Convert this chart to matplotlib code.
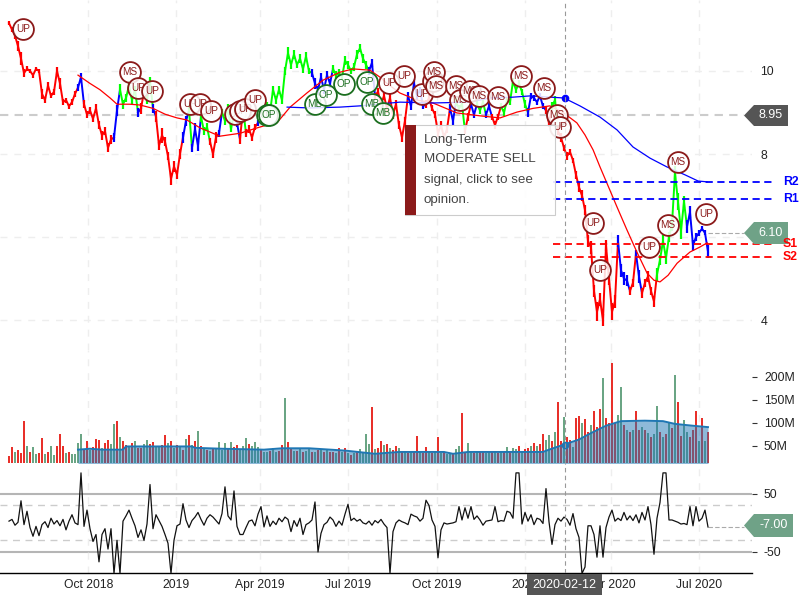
import matplotlib
matplotlib.use('Agg')
import matplotlib.pyplot as plt
from matplotlib.patches import Polygon, Rectangle
from matplotlib.transforms import blended_transform_factory

plt.rcParams['font.family'] = ['Liberation Sans', 'DejaVu Sans']
plt.rcParams['axes.unicode_minus'] = False

# x axis is the sample number, one sample per 3 pixels of the chart
tick_pos = [26.4, 55.8, 83.6, 112.9, 142.6, 172, 200.7, 230.1]
tick_names = ['Oct 2018', '2019', 'Apr 2019', 'Jul 2019', 'Oct 2019', '2020', 'Apr 2020', 'Jul 2020']

price = [
    11.15, 11.0, 10.85, 10.6, 10.3, 9.95, 10.05, 10.0, 9.9, 10.05,
    10.0, 9.45, 9.3, 9.65, 9.4, 9.5, 10.0, 9.7, 9.25, 9.3,
    9.15, 9.25, 9.45, 9.6, 9.85, 9.2, 8.95, 9.05, 8.85, 9.1,
    8.7, 8.45, 8.55, 8.15, 8.35, 8.4, 9.05, 9.55, 9.2,
    9.35, 9.65, 9.3, 9.55, 9.0, 9.1, 9.5, 9.3, 9.75, 9.1,
    8.9, 8.2, 8.45, 8.3, 7.95, 7.4, 7.7, 7.5, 8.0, 8.4,
    8.8, 9.05, 8.15, 8.6, 8.2, 8.9, 8.55, 8.65, 8.3, 8.0,
    8.4, 8.5, 9.0, 8.8, 9.1, 8.6, 9.0, 8.75, 8.35, 9.1,
    8.5, 8.6, 8.4, 8.65, 8.75, 8.85, 9.1, 9.15, 9.0, 9.55,
    9.3, 9.55, 9.3, 10.0, 10.43, 10.15, 10.4, 10.15, 10.3, 10.05,
    10.35, 10.0, 9.95, 9.7, 9.55, 9.85, 9.55, 9.9, 9.7, 10.05,
    9.9, 9.95, 9.85, 10.25, 10.15, 10.0, 10.1, 10.4, 10.55, 10.3,
    10.15, 10.0, 10.2, 9.4, 9.5, 9.2, 9.4, 9.1, 9.35, 8.95,
    9.2, 8.7, 8.4, 8.8, 9.4, 9.15, 9.7, 9.4, 9.55, 9.15,
    9.2, 9.35, 9.1, 8.95, 8.5, 8.7, 8.4, 8.6, 9.1, 8.8,
    9.25, 9.1, 9.2, 8.55, 8.9, 9.2, 8.95, 9.2, 9.05, 9.25,
    8.95, 9.15, 8.9, 8.7, 8.9, 9.15, 9.0, 9.3, 9.25, 9.75,
    9.55, 9.7, 9.5, 9.2, 9.0, 9.4, 9.35, 9.25, 9.4, 9.15,
    9.05, 8.75, 9.15, 9.3, 8.55, 8.4, 8.15, 7.95, 8.05, 7.85,
    7.5, 7.2, 7.0, 6.65, 5.9, 5.75, 4.7, 4.2, 4.5, 4.0,
    5.8, 5.0, 4.2, 4.45, 5.9, 5.2, 5.0, 4.95, 4.7, 4.9,
    5.6, 5.05, 4.65, 4.9, 5.05, 4.7, 4.45, 5.1, 5.45, 5.9,
    5.5, 6.0, 6.3, 7.55, 6.85, 6.15, 6.85, 6.25, 6.6, 5.8,
    6.0, 6.1, 6.2, 6.1, 5.65,
]
# high-low range seen at each sample
day_range = [
    0.1, 0.12, 0.15, 0.25, 0.3, 0.2, 0.12, 0.1, 0.12, 0.1,
    0.12, 0.25, 0.15, 0.18, 0.12, 0.15, 0.2, 0.25, 0.15, 0.12,
    0.12, 0.15, 0.15, 0.15, 0.2, 0.2, 0.15, 0.15, 0.15, 0.2,
    0.2, 0.2, 0.18, 0.22, 0.2, 0.2, 0.25, 0.25, 0.22, 0.2,
    0.2, 0.2, 0.2, 0.2, 0.25, 0.2, 0.2, 0.2, 0.2, 0.25,
    0.2, 0.35, 0.2, 0.2, 0.3, 0.25, 0.2, 0.25, 0.25, 0.25,
    0.25, 0.2, 0.3, 0.25, 0.25, 0.2, 0.2, 0.15, 0.2, 0.25,
    0.18, 0.15, 0.2, 0.2, 0.15, 0.2, 0.2, 0.2, 0.2, 0.2,
    0.2, 0.15, 0.15, 0.15, 0.15, 0.15, 0.2, 0.2, 0.2, 0.2,
    0.2, 0.2, 0.2, 0.3, 0.2, 0.2, 0.15, 0.2, 0.2, 0.2,
    0.15, 0.2, 0.25, 0.2, 0.2, 0.2, 0.2, 0.2, 0.2, 0.2,
    0.2, 0.15, 0.2, 0.2, 0.15, 0.2, 0.2, 0.2, 0.2, 0.2,
    0.2, 0.2, 0.15, 0.2, 0.2, 0.2, 0.2, 0.2, 0.2, 0.2,
    0.2, 0.2, 0.2, 0.2, 0.2, 0.2, 0.2, 0.15, 0.15, 0.2,
    0.15, 0.15, 0.15, 0.2, 0.2, 0.2, 0.2, 0.2, 0.2, 0.2,
    0.15, 0.15, 0.15, 0.2, 0.2, 0.15, 0.15, 0.15, 0.15, 0.15,
    0.15, 0.15, 0.2, 0.15, 0.15, 0.15, 0.15, 0.15, 0.15, 0.15,
    0.15, 0.15, 0.2, 0.2, 0.15, 0.15, 0.12, 0.12, 0.15, 0.15,
    0.2, 0.2, 0.2, 0.2, 0.2, 0.15, 0.2, 0.15, 0.12, 0.2,
    0.25, 0.25, 0.25, 0.3, 0.3, 0.3, 0.45, 0.3, 0.3, 0.25,
    0.3, 0.4, 0.3, 0.3, 0.3, 0.3, 0.25, 0.2, 0.2, 0.2,
    0.3, 0.25, 0.2, 0.25, 0.2, 0.25, 0.3, 0.25, 0.3, 0.3,
    0.25, 0.3, 0.3, 0.4, 0.4, 0.3, 0.3, 0.3, 0.25, 0.2,
    0.15, 0.12, 0.12, 0.3,
]
trend_runs = [
    ('r', 23), ('b', 2), ('r', 10), ('b', 2), ('g', 6), ('b', 1), ('r', 1), ('g', 3),
    ('b', 1), ('r', 9), ('b', 2), ('g', 1), ('b', 3), ('g', 3), ('r', 3), ('b', 1),
    ('g', 5), ('b', 1), ('r', 1), ('g', 1), ('r', 4), ('b', 1), ('g', 17), ('b', 7),
    ('g', 12), ('b', 2), ('r', 11), ('b', 6), ('r', 8), ('b', 2), ('g', 3), ('r', 2),
    ('b', 2), ('g', 3), ('b', 2), ('r', 3), ('g', 9), ('b', 6), ('r', 2), ('g', 2),
    ('r', 20), ('b', 4), ('r', 2), ('b', 2), ('r', 5), ('g', 10), ('b', 8),
]

ma_red_x = [23, 27, 30.3, 33.7, 36, 40.3, 43.7, 48, 52, 56, 59.3, 63.7, 67, 70.3, 77, 82.7, 87, 89.3,
            93.7, 99.3, 104.7, 110.3, 114.7, 120.3, 123.7, 126, 130.3, 136, 141.3, 149.3, 157, 163.7,
            169.3, 174.7, 180.3, 184.7, 189.3, 192, 194.7, 197, 199.3, 202.7, 206, 209.3, 212.7,
            215, 217, 219.7, 222.7, 227, 230.3, 232.7]
ma_red = [9.9, 9.7, 9.55, 9.35, 9.2, 9.2, 9.18, 9.1, 8.96, 8.87, 8.82, 8.63, 8.53, 8.43, 8.5, 8.63, 8.72, 8.75,
          9.13, 9.47, 9.78, 9.97, 10.05, 10.02, 9.85, 9.7, 9.47, 9.3, 9.23, 8.99, 8.92, 8.87,
          9.01, 9.1, 9.16, 9.0, 8.75, 8.46, 8.1, 7.69, 7.3, 6.72, 6.17, 5.64, 5.13,
          4.96, 4.92, 5.08, 5.37, 5.64, 5.76, 5.86]
ma_blue_x = [92.7, 100.3, 110.3, 117, 130.3, 141.3, 153.7, 160.3, 168, 173.7, 185, 190.3, 197, 202.7,
             208, 213.7, 219.3, 225.3, 229.7, 232.7]
ma_blue = [9.13, 9.11, 9.13, 9.16, 9.25, 9.23, 9.25, 9.35, 9.37, 9.4, 9.35, 9.16, 8.89, 8.58,
           8.17, 7.9, 7.69, 7.5, 7.35, 7.33]

signal_x = [4.7, 40.3, 43, 47.7, 60.3, 63.7, 67.3, 75.3, 77, 78.7, 82, 86, 86.7,
            102, 105.7, 111.7, 119.3, 121, 124.7, 126.7, 131.7, 137.7, 141.3, 141.7, 142.3,
            149, 150.3, 153.7, 156.7, 163, 170.7, 178.3, 182.7, 183.7, 194.7, 197,
            213.3, 219.7, 223, 232.3]
signal_price = [11.0, 9.97, 9.6, 9.53, 9.2, 9.2, 9.03, 8.97, 9.03, 9.08, 9.3, 8.93, 8.95,
                9.2, 9.42, 9.68, 9.73, 9.2, 9.0, 9.7, 9.87, 9.45, 9.75, 9.97, 9.65,
                9.65, 9.3, 9.53, 9.4, 9.37, 9.87, 9.6, 8.95, 8.65, 6.35, 5.2,
                5.75, 6.3, 7.8, 6.55]
signal_name = ['UP', 'MS', 'UP', 'UP', 'UP', 'UP', 'UP', 'UP', 'UP', 'UP', 'UP', 'OP', 'OP',
               'MB', 'OP', 'OP', 'OP', 'MB', 'MB', 'UP', 'UP', 'UP', 'UP', 'MS', 'MS',
               'MS', 'MS', 'MS', 'MS', 'MS', 'MS', 'MS', 'MS', 'UP', 'UP', 'UP',
               'UP', 'MS', 'MS', 'UP']

resist = [7.33, 6.92]
resist_names = ['R2', 'R1']
support = [5.83, 5.52]
support_names = ['S1', 'S2']
last_close = 6.10
ref_price = 8.95
cross_x = 185.2
cross_price = 9.35
cross_vol = 53

volume = [
    29, 47, 36, 42, 34, 104, 50, 36, 47, 33,
    34, 67, 32, 36, 49, 30, 50, 77, 51, 35,
    38, 32, 33, 56, 75, 44, 60, 42, 48, 65,
    63, 46, 56, 62, 55, 97, 104, 70, 60, 52,
    48, 57, 60, 46, 45, 54, 64, 54, 59, 48,
    50, 52, 74, 57, 60, 46, 52, 50, 42, 66,
    74, 52, 60, 82, 50, 44, 42, 40, 44, 46,
    58, 42, 57, 44, 58, 48, 52, 42, 50, 67,
    54, 50, 58, 47, 44, 36, 38, 40, 46, 38,
    40, 52, 155, 58, 44, 40, 40, 46, 38, 40,
    44, 36, 38, 42, 44, 36, 41, 36, 38, 34,
    46, 36, 45, 34, 31, 35, 38, 44, 34, 76,
    55, 135, 44, 46, 60, 52, 54, 45, 42, 50,
    45, 40, 38, 35, 36, 38, 71, 36, 35, 48,
    38, 35, 40, 70, 35, 37, 33, 35, 33, 44,
    50, 122, 36, 57, 40, 35, 38, 36, 39, 35,
    37, 36, 40, 35, 37, 38, 48, 40, 46, 43,
    50, 37, 44, 46, 50, 56, 50, 54, 76, 62,
    74, 60, 80, 146, 60, 112, 70, 62, 48, 110,
    115, 100, 108, 80, 95, 125, 92, 130, 197, 110,
    100, 230, 100, 118, 178, 96, 85, 80, 84, 125,
    85, 92, 84, 78, 70, 76, 136, 80, 70, 75,
    103, 90, 205, 146, 72, 106, 80, 70, 85, 125,
    60, 110, 60, 80,
]
vol_up = (
    'rrgrrrgrgg' 'rrgrggrrrg' 'rggggrrgrr' 'rgrrggrgrr'
    'grgrrggrrg' 'grrgrgrgrg' 'rgrgrgrgrg' 'gggrgrrggg'
    'rgggrggrgg' 'rrgrrgrgrg' 'grgrgrgrrg' 'rgrgrgrggg'
    'grgrrgrgrr' 'grgrgrrgrr' 'grgrgrggrg' 'grrggrgrrg'
    'grgrgrgrgg' 'rgrrgrgrrg' 'grgrrgrrgr' 'rgrrgrrrgr'
    'rrrggrgrgr' 'rgrgrggrgr' 'grgrrggrrr' 'grgr'
)
vol_avg_x = [23, 27, 31, 38, 39, 61, 62, 71, 85, 91, 100, 112, 122, 130, 145, 148, 153, 178, 180, 185, 190, 194, 199, 204, 212, 218, 222, 228, 233]
vol_avg = [42, 44, 42, 42, 49, 49, 46, 44, 42, 45, 45, 40, 33, 37, 37, 33, 37, 37, 42, 53, 64, 78, 94, 104, 105, 104, 98, 94, 91]

osc = [
    3, 6, -4, 1, 38, -3, 20, -8, -23, -6,
    -22, -3, 2, -8, 8, -2, 4, -5, 6, -12,
    3, 14, 0, -3, 86, -6, 22, -10, -32, -20,
    -67, -20, -10, -45, -10, -87, -30, -87, 3, 12,
    22, 8, -5, -25, -12, -30, -2, 66, -10, 14,
    4, -6, -20, -35, -87, -30, -5, -2, 33, 5,
    -8, 4, 10, 18, 6, -4, 8, 14, 10, 4,
    -2, 16, 62, 12, 5, 55, -6, -20, -20, -8,
    3, 5, -5, 15, 28, -7, 12, -6, 3, -3,
    8, 2, 10, 6, -15, 4, -6, 8, -20, -3,
    0, 5, 36, -50, -18, -3, 1, 10, 5, -6,
    3, -4, 15, 32, 4, 8, 3, 6, 0, -2,
    3, -4, 4, 0, 6, -2, -8, -87, -15, 0,
    5, 2, 0, -3, 15, 12, 10, 3, 8, 39,
    30, 5, -6, -60, -12, 0, -2, -1, 0, 2,
    28, 5, 26, 8, 28, 6, 12, 5, -4, 3,
    4, 5, 28, 2, 4, 3, 20, 18, 8, 86,
    86, -2, 18, 3, 14, -3, 8, 6, -1, 59,
    2, -37, -3, 8, 3, 10, 6, -4, 16, -10,
    -25, -87, -76, -5, -5, -20, -59, -5, -59, -8,
    10, 22, 3, 8, 4, 18, 5, 12, 4, 14,
    0, 18, 5, 28, -3, -54, 8, 35, 86, 86,
    5, 5, 3, 1, -2, -1, -3, 28, -5, 28,
    3, 8, 22, -7,
]
osc_last = -7

W, H = 800.0, 600.0
RED = '#ff0000'
BLUE = '#0000ff'
GREEN = '#00ff00'
TEXT = '#222222'


def rect(top, bottom):
    return [0, 1 - bottom / H, 752 / W, (bottom - top) / H]


def fx(x):
    return x / W


def fy(y):
    return 1 - y / H


fig = plt.figure(figsize=(8, 6), dpi=100, facecolor='white')
ax = fig.add_axes(rect(0, 350))
axv = fig.add_axes(rect(350, 463), sharex=ax)
axo = fig.add_axes(rect(463, 573), sharex=ax)

for a in (ax, axv, axo):
    for s in a.spines.values():
        s.set_visible(False)
    a.patch.set_alpha(0)
    a.yaxis.tick_right()
    a.set_xticks(tick_pos)
    a.grid(axis='x', color='#eeeeee', ls=(0, (5, 5)), lw=1, zorder=0)
    a.axvline(cross_x, color='#999999', lw=0.8, ls=(0, (4, 3)), zorder=6)
    a.tick_params(axis='x', length=0, labelbottom=False)
    a.tick_params(axis='y', labelsize=8.8, labelcolor=TEXT, color='#333333', length=3.6, width=0.8, pad=5)
ax.set_xlim(-3, 247.67)

# price panel
ax.set_ylim(3.28, 11.71)
ax.set_yticks([4, 6, 8, 10])
ax.tick_params(axis='y', length=0, pad=6)
ax.grid(axis='y', color='#eeeeee', ls=(0, (5, 5)), lw=1, zorder=0)
ax.hlines(ref_price, -3, 245, color='#cccccc', lw=1.5, ls=(0, (4, 3)), zorder=1, clip_on=False)
ax.hlines(last_close, 233, 245, color='#aaaaaa', lw=0.8, ls=(0, (4, 2)), zorder=1, clip_on=False)

colors = {'r': RED, 'b': BLUE, 'g': GREEN}
start = 0
for c, n in trend_runs:
    idx = list(range(start, start + n))
    # carry the line on to the first sample of the next run so the trace stays joined
    join = price[start:start + n + 1]
    ax.plot(range(start, start + len(join)), join, color=colors[c], lw=1.4, zorder=3)
    lows = [price[i] - day_range[i] / 2 for i in idx]
    highs = [price[i] + day_range[i] / 2 for i in idx]
    ax.vlines(idx, lows, highs, color=colors[c], lw=1.6, zorder=3)
    start += n

ax.plot(ma_red_x, ma_red, color=RED, lw=0.9, zorder=4)
ax.plot(ma_blue_x, ma_blue, color=BLUE, lw=0.9, zorder=4)
ax.plot([cross_x], [cross_price], 'o', color=BLUE, ms=4.5, zorder=5)

label_tf = blended_transform_factory(fig.transFigure, ax.transData)
for val, name in zip(resist, resist_names):
    ax.hlines(val, 181.3, 255.3, color=BLUE, lw=1.3, ls=(0, (4, 2.5)), zorder=4, clip_on=False)
    fig.text(fx(783), val, name, color=BLUE, fontsize=8.8, fontweight='bold', va='center',
             transform=label_tf, zorder=12)
for val, name in zip(support, support_names):
    ax.hlines(val, 181.3, 255.3, color=RED, lw=1.3, ls=(0, (4, 2.5)), zorder=4, clip_on=False)
    fig.text(fx(783), val, name, color=RED, fontsize=8.8, fontweight='bold', va='center',
             transform=label_tf, zorder=12)

for sx, sy, name in zip(signal_x, signal_price, signal_name):
    col = '#1b6e1f' if name in ('OP', 'MB') else '#8b1a1a'
    ax.plot([sx], [sy], 'o', ms=15, mfc=(1, 1, 1, 0.85), mec=col, mew=1.3, zorder=7)
    ax.text(sx, sy, name, color=col, fontsize=7.2, ha='center', va='center', zorder=7)

# volume panel
axv.set_ylim(13, 258.7)
axv.set_yticks([50, 100, 150, 200])
axv.set_yticklabels(['50M', '100M', '150M', '200M'])
vol_col = ['#e8302a' if c == 'r' else '#6aa584' for c in vol_up]
axv.bar(range(len(volume)), volume, width=0.6, color=vol_col, zorder=2)
axv.fill_between(vol_avg_x, 0, vol_avg, color='#1f77b4', alpha=0.5, lw=0, zorder=3)
axv.plot(vol_avg_x, vol_avg, color='#1f77b4', lw=1.4, zorder=4)
axv.plot([cross_x], [cross_vol], 'o', color='#1f77b4', ms=4.5, zorder=5)

# oscillator panel
axo.set_ylim(-86.2, 103)
axo.set_yticks([-50, 50])
axo.axhline(50, color='#b5b5b5', lw=1.5, zorder=1)
axo.axhline(-50, color='#b5b5b5', lw=1.5, zorder=1)
axo.axhline(30, color='#cccccc', lw=1, ls=(0, (5, 4)), zorder=1)
axo.axhline(-30, color='#cccccc', lw=1, ls=(0, (5, 4)), zorder=1)
axo.plot(range(len(osc)), osc, color='#111111', lw=0.9, zorder=3)
axo.hlines(osc_last, 233, 245, color='#aaaaaa', lw=0.8, ls=(0, (4, 2)), zorder=1, clip_on=False)
axo.spines['bottom'].set_visible(True)
axo.spines['bottom'].set_color('black')
axo.spines['bottom'].set_linewidth(1)
axo.set_xticklabels(tick_names)
axo.tick_params(axis='x', labelbottom=True, labelsize=8.7, labelcolor=TEXT, pad=4)


def tag(left, right, top, bottom, color, label):
    mid = (top + bottom) / 2
    pts = [(left, mid), (left + 10, top), (right, top), (right, bottom), (left + 10, bottom)]
    fig.add_artist(Polygon([(fx(x), fy(y)) for x, y in pts], closed=True, fc=color, ec='none',
                           transform=fig.transFigure, zorder=10))
    fig.text(fx((left + 10 + right) / 2), fy(mid), label, color='white', fontsize=9, ha='center',
             va='center', zorder=11)


tag(744, 788, 105, 126, '#555555', '%.2f' % ref_price)
tag(744, 788, 222, 244, '#6fa287', '%.2f' % last_close)
tag(744, 793, 514, 537, '#6fa287', '%.2f' % osc_last)

fig.add_artist(Rectangle((fx(527), fy(595)), 75 / W, 21 / H, fc='#555555', ec='none',
                         transform=fig.transFigure, zorder=10))
fig.text(fx(564.5), fy(584.5), '2020-02-12', color='white', fontsize=9, ha='center', va='center', zorder=11)

# hover box
fig.add_artist(Rectangle((fx(405), fy(215)), 150 / W, 90 / H, fc=(1, 1, 1, 0.9), ec='#cccccc', lw=0.8,
                         transform=fig.transFigure, zorder=10))
fig.add_artist(Rectangle((fx(405), fy(215)), 11 / W, 90 / H, fc='#8b1a1a', ec='none',
                         transform=fig.transFigure, zorder=11))
for i, line in enumerate(['Long-Term', 'MODERATE SELL', 'signal, click to see', 'opinion.']):
    fig.text(fx(424), fy(139.5 + 20 * i), line, color='#444444', fontsize=9.6, ha='left', va='center', zorder=11)

fig.savefig('out.png', dpi=100)
